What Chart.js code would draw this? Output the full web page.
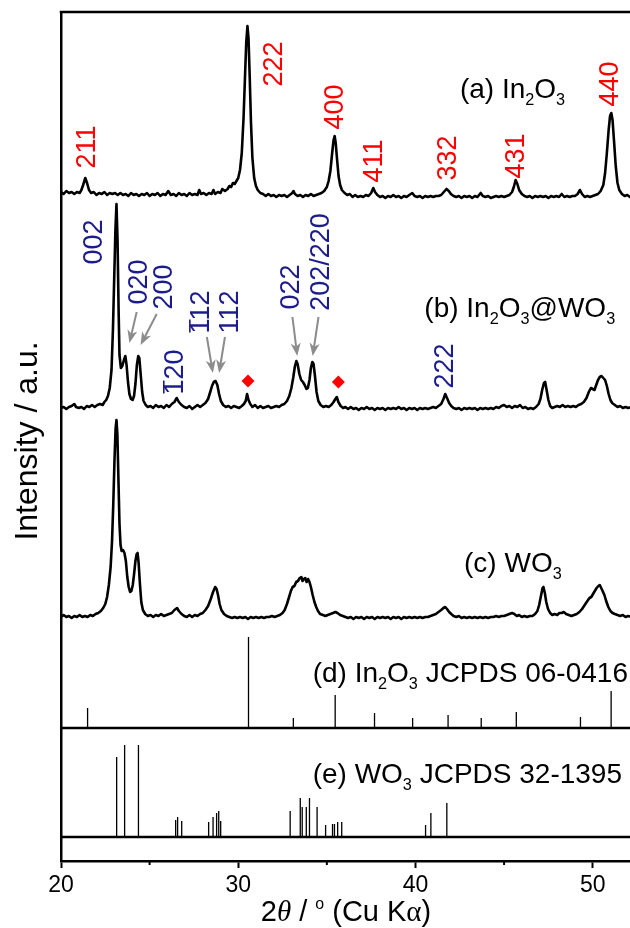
<!DOCTYPE html>
<html>
<head>
<meta charset="utf-8">
<script src="https://cdn.jsdelivr.net/npm/chart.js@4.4.1/dist/chart.umd.min.js"></script>
<style>
  html, body { margin: 0; padding: 0; overflow: hidden; background: #fff; }
</style>
</head>
<body>
<canvas id="chart" width="645" height="928"></canvas>
<script>
// 2theta (deg) and intensity above each trace's own baseline (a.u.)
const patternA = [
  [20.0,6],[20.15,4],[20.3,7],[20.45,5],[20.6,6],[20.75,4],[20.9,6],[21.05,5],[21.15,8],[21.25,13],[21.37,20],[21.47,15],[21.58,8],[21.7,5],[21.85,6],[22.0,3],[22.15,5],[22.3,4],[22.45,6],[22.6,3],[22.75,5],[22.9,4],[23.05,5],[23.2,3],[23.35,5],[23.5,3],[23.65,4],[23.8,2],[23.95,5],[24.1,3],[24.25,4],[24.4,2],[24.55,4],[24.7,3],[24.85,5],[25.0,2],[25.15,4],[25.3,3],[25.45,5],[25.6,2],[25.75,4],[25.9,3],[26.05,7],[26.2,3],[26.35,4],[26.5,2],[26.65,5],[26.8,3],[26.95,4],[27.1,2],[27.25,5],[27.4,3],[27.55,4],[27.7,3],[27.8,8],[27.9,4],[28.05,5],[28.2,3],[28.35,5],[28.5,4],[28.6,8],[28.7,4],[28.85,6],[29.0,5],[29.1,9],[29.25,7],[29.4,9],[29.5,12],[29.6,11],[29.7,15],[29.8,14],[29.9,17],[30.0,20],[30.1,28],[30.2,45],[30.3,80],[30.38,120],[30.45,155],[30.52,172],[30.58,160],[30.65,120],[30.72,75],[30.8,40],[30.9,20],[31.0,12],[31.1,8],[31.25,5],[31.4,4],[31.55,2],[31.7,4],[31.85,2],[32.0,3],[32.15,1],[32.3,3],[32.45,2],[32.6,3],[32.75,1],[32.9,3],[33.05,5],[33.12,7],[33.2,4],[33.35,2],[33.5,3],[33.65,1],[33.8,3],[33.95,2],[34.1,4],[34.25,2],[34.4,3],[34.55,4],[34.7,5],[34.85,7],[35.0,11],[35.1,17],[35.2,27],[35.3,45],[35.38,58],[35.44,62],[35.5,55],[35.58,38],[35.66,22],[35.75,13],[35.85,8],[36.0,5],[36.15,3],[36.3,4],[36.45,1],[36.6,3],[36.75,1],[36.9,2],[37.05,1],[37.2,3],[37.35,2],[37.5,5],[37.62,10],[37.72,6],[37.85,3],[38.0,1],[38.15,2],[38.3,0],[38.45,2],[38.6,1],[38.75,3],[38.9,1],[39.05,2],[39.2,0],[39.35,2],[39.5,1],[39.65,3],[39.82,5],[39.95,2],[40.1,1],[40.25,2],[40.4,0],[40.55,2],[40.7,1],[40.85,2],[41.0,1],[41.15,2],[41.3,2],[41.45,3],[41.6,6],[41.75,9],[41.88,7],[42.0,4],[42.15,2],[42.3,1],[42.45,2],[42.6,0],[42.75,2],[42.9,1],[43.05,2],[43.2,0],[43.35,2],[43.5,1],[43.68,5],[43.8,2],[43.95,1],[44.1,2],[44.25,0],[44.4,1],[44.55,2],[44.7,1],[44.85,2],[45.0,1],[45.15,2],[45.3,3],[45.45,6],[45.55,11],[45.65,18],[45.75,14],[45.85,8],[46.0,4],[46.15,2],[46.3,1],[46.45,2],[46.6,0],[46.75,2],[46.9,1],[47.05,2],[47.2,1],[47.35,2],[47.5,0],[47.65,2],[47.8,1],[47.95,2],[48.1,1],[48.25,4],[48.4,1],[48.55,2],[48.7,1],[48.85,2],[49.0,2],[49.15,4],[49.28,8],[49.4,4],[49.55,1],[49.7,2],[49.85,1],[50.0,2],[50.15,3],[50.3,4],[50.45,7],[50.6,13],[50.7,25],[50.8,45],[50.9,68],[50.98,82],[51.05,85],[51.12,78],[51.2,58],[51.3,32],[51.4,15],[51.5,8],[51.65,4],[51.8,2],[51.95,3],[52.1,1],[52.3,2],[52.5,1]
];

const patternB = [
  [20.0,2],[20.15,3],[20.3,1],[20.45,3],[20.6,4],[20.75,6],[20.85,3],[21.0,2],[21.15,3],[21.3,1],[21.45,4],[21.6,3],[21.75,5],[21.9,3],[22.05,5],[22.2,6],[22.35,5],[22.45,8],[22.55,10],[22.65,14],[22.75,22],[22.85,40],[22.93,80],[23.0,130],[23.07,180],[23.13,206],[23.19,170],[23.25,100],[23.3,55],[23.38,42],[23.46,44],[23.55,50],[23.63,54],[23.7,45],[23.78,28],[23.86,16],[23.95,11],[24.04,10],[24.12,14],[24.2,26],[24.28,45],[24.36,54],[24.42,52],[24.5,35],[24.58,18],[24.66,9],[24.78,5],[24.9,3],[25.05,4],[25.2,2],[25.35,5],[25.5,3],[25.65,4],[25.8,2],[25.95,5],[26.1,3],[26.25,6],[26.4,8],[26.53,12],[26.65,8],[26.8,5],[26.95,3],[27.1,2],[27.25,4],[27.4,1],[27.55,3],[27.7,5],[27.85,3],[28.0,5],[28.15,7],[28.3,11],[28.42,18],[28.52,24],[28.62,28],[28.72,29],[28.82,25],[28.92,16],[29.02,9],[29.15,5],[29.3,3],[29.45,4],[29.6,2],[29.75,4],[29.9,3],[30.05,2],[30.2,4],[30.32,6],[30.42,9],[30.5,16],[30.58,10],[30.68,6],[30.8,3],[30.95,5],[31.1,2],[31.25,4],[31.4,2],[31.55,3],[31.7,4],[31.85,2],[32.0,3],[32.15,4],[32.3,3],[32.45,5],[32.6,6],[32.75,9],[32.88,14],[33.0,22],[33.1,32],[33.2,44],[33.28,49],[33.35,46],[33.45,36],[33.55,30],[33.65,28],[33.75,25],[33.85,21],[33.93,22],[34.02,30],[34.1,42],[34.18,48],[34.25,46],[34.33,34],[34.42,18],[34.52,9],[34.65,5],[34.8,3],[34.95,4],[35.1,3],[35.25,5],[35.38,8],[35.48,11],[35.56,13],[35.65,8],[35.78,4],[35.92,2],[36.05,3],[36.2,1],[36.35,3],[36.5,1],[36.65,2],[36.8,0],[36.95,2],[37.1,1],[37.25,3],[37.4,1],[37.55,2],[37.7,0],[37.85,2],[38.0,1],[38.15,2],[38.3,0],[38.45,2],[38.6,1],[38.75,2],[38.9,1],[39.05,3],[39.2,1],[39.35,2],[39.5,0],[39.65,2],[39.8,1],[39.95,2],[40.1,0],[40.25,2],[40.4,1],[40.55,2],[40.7,1],[40.85,2],[41.0,3],[41.15,2],[41.3,4],[41.45,6],[41.58,11],[41.68,16],[41.78,12],[41.9,7],[42.02,4],[42.15,2],[42.3,1],[42.45,2],[42.6,0],[42.75,2],[42.9,1],[43.05,2],[43.2,1],[43.35,2],[43.5,0],[43.65,2],[43.8,1],[43.95,2],[44.1,1],[44.25,2],[44.4,1],[44.55,3],[44.7,2],[44.85,4],[45.0,5],[45.15,3],[45.3,4],[45.45,2],[45.6,4],[45.75,3],[45.9,5],[46.05,2],[46.2,3],[46.35,1],[46.5,2],[46.65,1],[46.8,3],[46.95,6],[47.05,11],[47.15,20],[47.25,27],[47.32,28],[47.4,20],[47.5,10],[47.6,4],[47.72,2],[47.85,3],[48.0,4],[48.15,3],[48.3,5],[48.45,3],[48.6,4],[48.75,3],[48.9,4],[49.05,3],[49.2,5],[49.35,6],[49.5,8],[49.65,12],[49.78,18],[49.9,22],[50.0,21],[50.1,20],[50.2,25],[50.3,30],[50.4,33],[50.5,34],[50.6,32],[50.7,30],[50.8,24],[50.9,16],[51.0,10],[51.1,7],[51.25,5],[51.4,3],[51.55,4],[51.7,2],[51.85,3],[52.0,2],[52.2,3],[52.5,2]
];

const patternC = [
  [20.0,2],[20.15,4],[20.3,2],[20.45,3],[20.6,1],[20.75,3],[20.9,2],[21.05,4],[21.2,2],[21.35,3],[21.5,2],[21.65,4],[21.8,3],[21.95,5],[22.1,6],[22.25,8],[22.38,11],[22.5,15],[22.6,22],[22.7,34],[22.8,52],[22.88,78],[22.95,115],[23.02,160],[23.08,190],[23.13,199],[23.18,185],[23.24,140],[23.3,95],[23.36,74],[23.42,68],[23.5,69],[23.58,66],[23.66,58],[23.74,42],[23.82,32],[23.9,27],[23.97,28],[24.05,34],[24.13,46],[24.2,58],[24.27,65],[24.32,66],[24.38,56],[24.45,36],[24.53,17],[24.62,9],[24.75,5],[24.9,3],[25.05,4],[25.2,2],[25.35,4],[25.5,3],[25.65,5],[25.8,3],[25.95,4],[26.1,5],[26.25,6],[26.4,9],[26.55,11],[26.65,8],[26.8,5],[26.95,3],[27.1,2],[27.25,4],[27.4,2],[27.55,4],[27.7,3],[27.85,5],[28.0,6],[28.15,9],[28.3,13],[28.45,20],[28.58,27],[28.7,32],[28.78,30],[28.86,24],[28.95,15],[29.05,9],[29.2,5],[29.35,3],[29.5,2],[29.65,1],[29.8,2],[29.95,1],[30.1,2],[30.25,1],[30.4,2],[30.55,0],[30.7,2],[30.85,1],[31.0,2],[31.15,1],[31.3,2],[31.45,1],[31.6,2],[31.75,2],[31.9,3],[32.05,2],[32.2,3],[32.35,4],[32.5,6],[32.62,9],[32.75,15],[32.87,22],[32.97,28],[33.07,32],[33.17,33],[33.27,37],[33.37,38],[33.47,41],[33.56,42],[33.63,38],[33.7,40],[33.78,41],[33.86,37],[33.94,40],[34.02,37],[34.1,32],[34.2,24],[34.3,17],[34.4,12],[34.5,8],[34.62,5],[34.78,4],[34.92,3],[35.05,4],[35.2,5],[35.35,6],[35.48,7],[35.6,6],[35.75,4],[35.9,3],[36.05,2],[36.2,1],[36.35,2],[36.5,0],[36.65,2],[36.8,1],[36.95,2],[37.1,0],[37.25,2],[37.4,1],[37.55,2],[37.7,0],[37.85,2],[38.0,1],[38.15,2],[38.3,1],[38.45,2],[38.6,0],[38.75,2],[38.9,1],[39.05,2],[39.2,0],[39.35,2],[39.5,1],[39.65,2],[39.8,1],[39.95,2],[40.1,1],[40.25,2],[40.4,1],[40.55,2],[40.7,2],[40.85,3],[41.0,4],[41.15,5],[41.3,7],[41.45,9],[41.58,11],[41.68,12],[41.78,10],[41.9,7],[42.02,5],[42.15,3],[42.3,2],[42.45,3],[42.6,1],[42.75,2],[42.9,1],[43.05,2],[43.2,1],[43.35,2],[43.5,1],[43.65,2],[43.8,1],[43.95,2],[44.1,1],[44.25,2],[44.4,2],[44.55,3],[44.7,2],[44.85,3],[45.0,3],[45.15,4],[45.3,5],[45.45,6],[45.58,5],[45.72,3],[45.85,4],[46.0,2],[46.15,3],[46.3,2],[46.45,3],[46.6,3],[46.75,5],[46.88,8],[46.98,14],[47.08,23],[47.17,31],[47.22,32],[47.3,26],[47.38,17],[47.48,10],[47.6,6],[47.72,4],[47.85,5],[48.0,4],[48.12,6],[48.25,6],[48.37,7],[48.5,5],[48.65,4],[48.8,3],[48.95,4],[49.1,5],[49.25,7],[49.4,10],[49.55,14],[49.7,18],[49.82,21],[49.92,22],[50.02,25],[50.12,28],[50.22,31],[50.32,33],[50.4,34],[50.48,31],[50.56,28],[50.66,24],[50.76,18],[50.88,12],[51.0,8],[51.12,6],[51.25,5],[51.4,4],[51.55,3],[51.7,4],[51.85,2],[52.0,3],[52.2,2],[52.5,3]
];

// reference cards
const in2o3Theta = [21.50, 30.58, 33.11, 35.47, 37.69, 39.84, 41.84, 43.71, 45.69, 49.31, 51.04];
const in2o3Height = [20, 91, 10, 33, 15, 10, 13, 10, 16, 11, 37];
const wo3Theta = [23.14, 23.59, 24.37, 26.47, 26.58, 26.81, 28.33, 28.58, 28.78, 28.90, 29.01, 32.93, 33.50, 33.61, 33.84, 34.02, 34.45, 34.93, 35.32, 35.43, 35.61, 35.84, 40.57, 40.87, 41.77];
const wo3Height = [80, 92, 92, 17, 20, 16, 15, 20, 24, 26, 16, 26, 39, 30, 30, 39, 30, 12, 13, 13, 15, 15, 12, 24, 34];

// In2O3 marks in trace (b)
const diamondTheta = [30.55, 35.65];
const diamondHeight = [29, 28];

const xTicks = [20, 30, 40, 50];
const xMinorTicks = [25, 35, 45];

// hkl labels: text, 2theta, height (y units)
const redLabels = ['211', '222', '400', '411', '332', '431', '440'];
const redX = [21.47, 32.04, 35.49, 37.68, 41.84, 45.69, 51.02];
const redY = [714, 797, 754, 700, 703, 705, 777];
const blueLabels = ['002', '020', '200', '120', '112', '112', '022', '202/220', '222'];
const blueBar = [false, false, false, true, true, false, false, false, false];
const blueX = [21.88, 24.42, 25.85, 26.47, 27.94, 29.59, 33.0, 34.69, 41.72];
const blueY = [619, 579, 574, 489, 549, 549, 574, 599, 495];

// arrows: from (x1,y1) to (x2,y2)
const arrowFrom = [[24.27, 549], [25.40, 547], [28.23, 524], [29.25, 524], [33.06, 544], [34.53, 544]];
const arrowTo = [[23.86, 518], [24.49, 516], [28.57, 488], [28.92, 488], [33.33, 505], [34.20, 505]];

// trace names
const traceNames = [
  [['(a) In', ''], ['2', 'sub'], ['O', ''], ['3', 'sub']],
  [['(b) In', ''], ['2', 'sub'], ['O', ''], ['3', 'sub'], ['@WO', ''], ['3', 'sub']],
  [['(c) WO', ''], ['3', 'sub']],
  [['(d) In', ''], ['2', 'sub'], ['O', ''], ['3', 'sub'], [' JCPDS 06-0416', '']],
  [['(e) WO', ''], ['3', 'sub'], [' JCPDS 32-1395', '']]
];
const traceNameX = [42.51, 40.50, 42.74, 34.20, 34.20];
const traceNameY = [763, 544, 289, 179, 78];

// vertical stacking offsets (y units)
const offsetA = 663, offsetB = 451, offsetC = 242, baseD = 133, baseE = 24;

const FONT = '"Liberation Sans", Arial, sans-serif';
const SERIF = '"Liberation Serif", "Times New Roman", serif';
const RED = '#ff0000', BLUE = '#1c1c8c', GREY = '#8c8c8c';

const toPts = (pat, off) => pat.map(([t, h]) => ({ x: t, y: off + h }));
const sticks = (th, hs, base) => th.flatMap((t, i) => [{ x: t, y: base }, { x: t, y: base + hs[i] }, { x: t, y: null }]);

function richText(ctx, parts, x, y, size, measureOnly) {
    let cx = x;
    for (const [t, kind] of parts) {
        let fs = size, dy = 0, fam = FONT, style = '';
        if (kind === 'sub') { fs = size * 0.58; dy = size * 0.26; }
        if (kind === 'sup') { fs = size * 0.55; dy = -size * 0.42; }
        if (kind === 'itserif') { fam = SERIF; style = 'italic '; }
        if (kind === 'serif') { fam = SERIF; }
        ctx.font = style + fs + 'px ' + fam;
        if (!measureOnly) ctx.fillText(t, cx, y + dy);
        cx += ctx.measureText(t).width;
    }
    return cx - x;
}

function vText(ctx, text, px, py, color, bar) {
    const fs = 27;
    ctx.save();
    ctx.translate(px, py);
    ctx.rotate(-Math.PI / 2);
    ctx.font = fs + 'px ' + FONT;
    ctx.fillStyle = color;
    ctx.textAlign = 'center';
    ctx.textBaseline = 'middle';
    ctx.fillText(text, 0, 0);
    if (bar) {
        const w = ctx.measureText(text).width, w1 = ctx.measureText(text[0]).width;
        ctx.strokeStyle = color;
        ctx.lineWidth = 1.6;
        ctx.beginPath();
        ctx.moveTo(-w / 2 + 1, -fs * 0.44);
        ctx.lineTo(-w / 2 + w1 - 1, -fs * 0.44);
        ctx.stroke();
    }
    ctx.restore();
}

function arrow(ctx, x1, y1, x2, y2) {
    const ang = Math.atan2(y2 - y1, x2 - x1), L = 13, W = 5;
    const c = Math.cos(ang), s = Math.sin(ang);
    const bx = x2 - L * c, by = y2 - L * s;
    ctx.beginPath();
    ctx.moveTo(x1, y1);
    ctx.lineTo(x2 - L * 0.7 * c, y2 - L * 0.7 * s);
    ctx.stroke();
    ctx.beginPath();
    ctx.moveTo(x2, y2);
    ctx.lineTo(bx + W * s, by - W * c);
    ctx.lineTo(x2 - L * 0.72 * c, y2 - L * 0.72 * s);
    ctx.lineTo(bx - W * s, by + W * c);
    ctx.closePath();
    ctx.fill();
}

const overlay = {
    id: 'overlay',
    afterDraw(chart) {
        const { ctx, chartArea: a, scales: { x, y } } = chart;
        ctx.save();

        // top frame line
        ctx.strokeStyle = '#000';
        ctx.lineWidth = 2.5;
        ctx.beginPath();
        ctx.moveTo(a.left - 1.25, a.top);
        ctx.lineTo(a.right, a.top);
        ctx.stroke();

        // minor ticks
        ctx.lineWidth = 2;
        xMinorTicks.forEach(v => {
            const px = x.getPixelForValue(v);
            ctx.beginPath();
            ctx.moveTo(px, a.bottom);
            ctx.lineTo(px, a.bottom + 4);
            ctx.stroke();
        });

        // arrows
        ctx.strokeStyle = GREY;
        ctx.fillStyle = GREY;
        ctx.lineWidth = 2;
        arrowFrom.forEach((f, i) => {
            const t = arrowTo[i];
            arrow(ctx, x.getPixelForValue(f[0]), y.getPixelForValue(f[1]),
                x.getPixelForValue(t[0]), y.getPixelForValue(t[1]));
        });

        // hkl labels
        redLabels.forEach((s, i) => vText(ctx, s, x.getPixelForValue(redX[i]), y.getPixelForValue(redY[i]), RED, false));
        blueLabels.forEach((s, i) => vText(ctx, s, x.getPixelForValue(blueX[i]), y.getPixelForValue(blueY[i]), BLUE, blueBar[i]));

        // trace names
        ctx.fillStyle = '#000';
        ctx.textAlign = 'left';
        ctx.textBaseline = 'alphabetic';
        traceNames.forEach((parts, i) => richText(ctx, parts, x.getPixelForValue(traceNameX[i]), y.getPixelForValue(traceNameY[i]), 28));

        // x title
        const xt = [['2', ''], ['\u03b8', 'itserif'], [' / ', ''], ['o', 'sup'], [' (Cu K', ''], ['\u03b1', 'serif'], [')', '']];
        const w = richText(ctx, xt, 0, 0, 29, true);
        richText(ctx, xt, 346 - w / 2, 921, 29);

        // y title
        ctx.translate(28, 441);
        ctx.rotate(-Math.PI / 2);
        ctx.font = '32px ' + FONT;
        ctx.textAlign = 'center';
        ctx.textBaseline = 'middle';
        ctx.fillText('Intensity / a.u.', 0, 0);

        ctx.restore();
    }
};

const lineStyle = { borderColor: '#000', borderWidth: 2.6, pointRadius: 0, borderJoinStyle: 'round', tension: 0 };

new Chart(document.getElementById('chart').getContext('2d'), {
    type: 'line',
    data: {
        datasets: [
            { ...lineStyle, data: toPts(patternA, offsetA) },
            { ...lineStyle, data: toPts(patternB, offsetB) },
            { ...lineStyle, data: toPts(patternC, offsetC) },
            { borderColor: '#000', borderWidth: 1.3, pointRadius: 0, data: sticks(in2o3Theta, in2o3Height, baseD) },
            { borderColor: '#000', borderWidth: 1.3, pointRadius: 0, data: sticks(wo3Theta, wo3Height, baseE) },
            { borderColor: '#000', borderWidth: 2.5, pointRadius: 0, data: [{ x: 20, y: baseD }, { x: 52.5, y: baseD }] },
            { borderColor: '#000', borderWidth: 2.5, pointRadius: 0, data: [{ x: 20, y: baseE }, { x: 52.5, y: baseE }] },
            {
                showLine: false, pointStyle: 'rectRot', pointRadius: 6.5, pointBackgroundColor: RED,
                pointBorderWidth: 0, pointBorderColor: RED,
                data: diamondTheta.map((t, i) => ({ x: t, y: offsetB + diamondHeight[i] }))
            }
        ]
    },
    options: {
        responsive: false,
        animation: false,
        layout: { padding: { top: 12, right: 8, left: 0, bottom: 0 } },
        plugins: { legend: { display: false }, tooltip: { enabled: false } },
        scales: {
            x: {
                type: 'linear',
                min: 20,
                max: 52.5,
                afterFit: (s) => { s.height = 67; },
                afterBuildTicks: (s) => { s.ticks = xTicks.map(v => ({ value: v })); },
                ticks: {
                    autoSkip: false,
                    maxRotation: 0,
                    padding: 4,
                    color: '#000',
                    font: { family: FONT, size: 23 }
                },
                grid: { drawOnChartArea: false, tickLength: 7, tickWidth: 2, tickColor: '#000' },
                border: { color: '#000', width: 2.5 }
            },
            y: {
                min: 0,
                max: 849,
                afterFit: (s) => { s.width = 61; },
                ticks: { display: false },
                grid: { display: false },
                border: { color: '#000', width: 2.5 }
            }
        }
    },
    plugins: [overlay]
});
</script>
</body>
</html>
